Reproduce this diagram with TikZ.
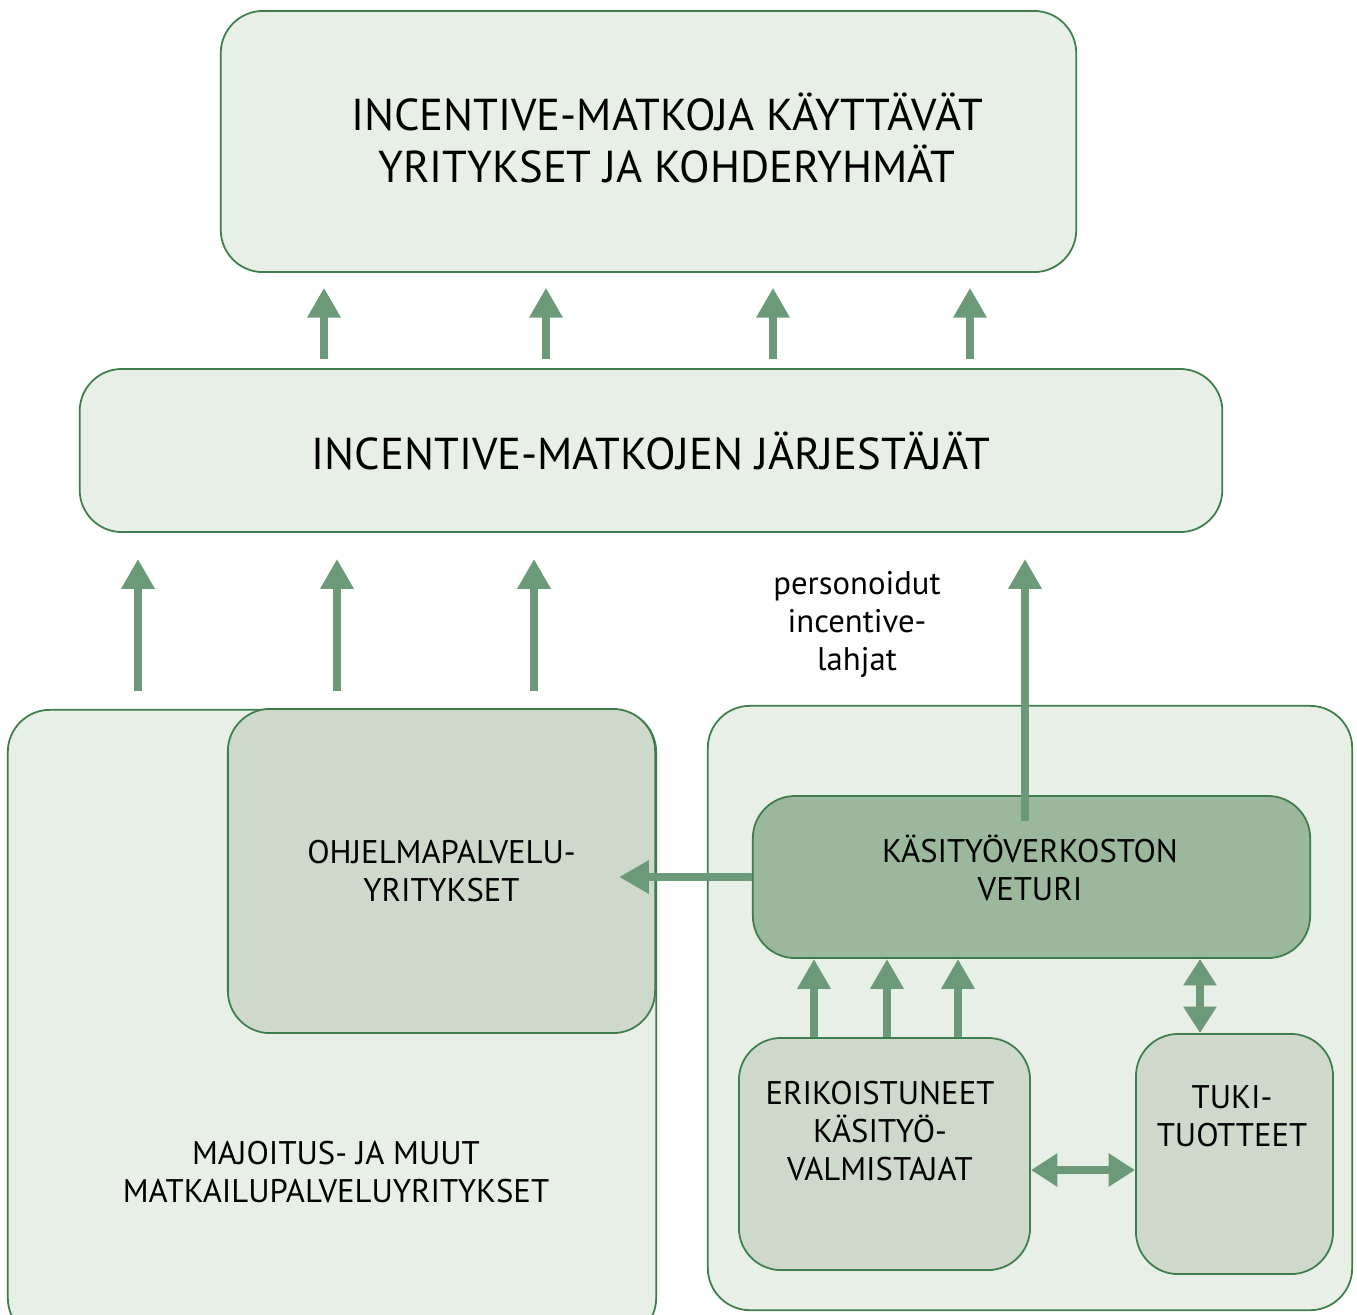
\documentclass[tikz,border=0pt]{standalone}
\usepackage{fontspec}
\setmainfont{PT Sans}
\usetikzlibrary{arrows.meta}

\definecolor{lightgr}{HTML}{E8EFE6}
\definecolor{midgr}{HTML}{CED9CC}
\definecolor{darkgr}{HTML}{9BB79C}
\definecolor{arrgr}{HTML}{6C9A78}
\definecolor{edgegr}{HTML}{3E7D4C}

\tikzset{
  box/.style={draw=edgegr, line width=0.5pt, rounded corners=12pt, align=center},
  bigtext/.style={font=\fontsize{12.7}{14.6}\selectfont, align=center},
  smalltext/.style={font=\fontsize{9.3}{10.8}\selectfont, align=center},
  uparr/.style={draw=arrgr, line width=2.3pt, -{Triangle[width=9pt,length=8.5pt]}},
  botharr/.style={draw=arrgr, line width=2.3pt, {Triangle[width=9pt,length=7.5pt]}-{Triangle[width=9pt,length=7.5pt]}}
}

\begin{document}
\begin{tikzpicture}[x=0.01cm,y=-0.01cm]
    \clip (0,0) rectangle (1357,1314);
    % boxes
    \node[box, fill=lightgr, minimum width=8.55cm, minimum height=2.61cm] (top) at (648.5,141.5) {};
    \node[box, fill=lightgr, minimum width=11.42cm, minimum height=1.63cm, bigtext] (mid) at (651,450.5)
      {INCENTIVE-MATKOJEN JÄRJESTÄJÄT};
    \node[box, fill=lightgr, minimum width=6.48cm, minimum height=6.3cm] (maj) at (332,1025) {};
    \node[box, fill=midgr, minimum width=4.27cm, minimum height=3.24cm, smalltext] (ohj) at (441.5,871)
      {OHJELMAPALVELU-\\YRITYKSET};
    \node[box, fill=lightgr, minimum width=6.44cm, minimum height=6.04cm] (kas) at (1030,1008) {};
    \node[box, fill=darkgr, minimum width=5.57cm, minimum height=1.62cm] (vet) at (1031.5,877) {};
    \node[box, fill=midgr, minimum width=2.91cm, minimum height=2.32cm] (eri) at (884.5,1154) {};
    \node[box, fill=midgr, minimum width=1.97cm, minimum height=2.40cm] (tuki) at (1234.5,1154) {};
    % texts
    \node[bigtext] (toptxt) at (667,138) {INCENTIVE-MATKOJA KÄYTTÄVÄT\\YRITYKSET JA KOHDERYHMÄT};
    \node[smalltext] (vettxt) at (1030,868) {KÄSITYÖVERKOSTON\\VETURI};
    \node[smalltext] (majtxt) at (336,1172) {MAJOITUS- JA MUUT\\MATKAILUPALVELUYRITYKSET};
    \node[smalltext] (eritxt) at (880,1131) {ERIKOISTUNEET\\KÄSITYÖ-\\VALMISTAJAT};
    \node[smalltext] (tukitxt) at (1232,1116) {TUKI-\\TUOTTEET};
    \node[smalltext] (lahjat) at (857,624) {personoidut\\incentive-\\lahjat};
    % arrows
    \foreach \x in {324,546,773,970}
      \draw[uparr, shorten <=2.5pt, shorten >=4.2pt] (mid.north -| \x,0) -- (top.south -| \x,0);
    \foreach \x in {138,337,534}
      \draw[uparr, shorten <=5.1pt, shorten >=7.4pt] (maj.north -| \x,0) -- (mid.south -| \x,0);
    \draw[uparr, shorten <=-7.4pt, shorten >=7.4pt] (vet.north -| 1025,0) -- (mid.south -| 1025,0);
    \draw[uparr, shorten >=-10.5pt] (vet.west) -- (ohj.east |- vet.west);
    \foreach \x in {814,887,958}
      \draw[uparr] (eri.north -| \x,0) -- (vet.south -| \x,0);
    \draw[botharr] (vet.south -| 1200,0) -- (tuki.north -| 1200,0);
    \draw[botharr] (eri.east |- 0,1170) -- (tuki.west |- 0,1170);
\end{tikzpicture}
\end{document}
